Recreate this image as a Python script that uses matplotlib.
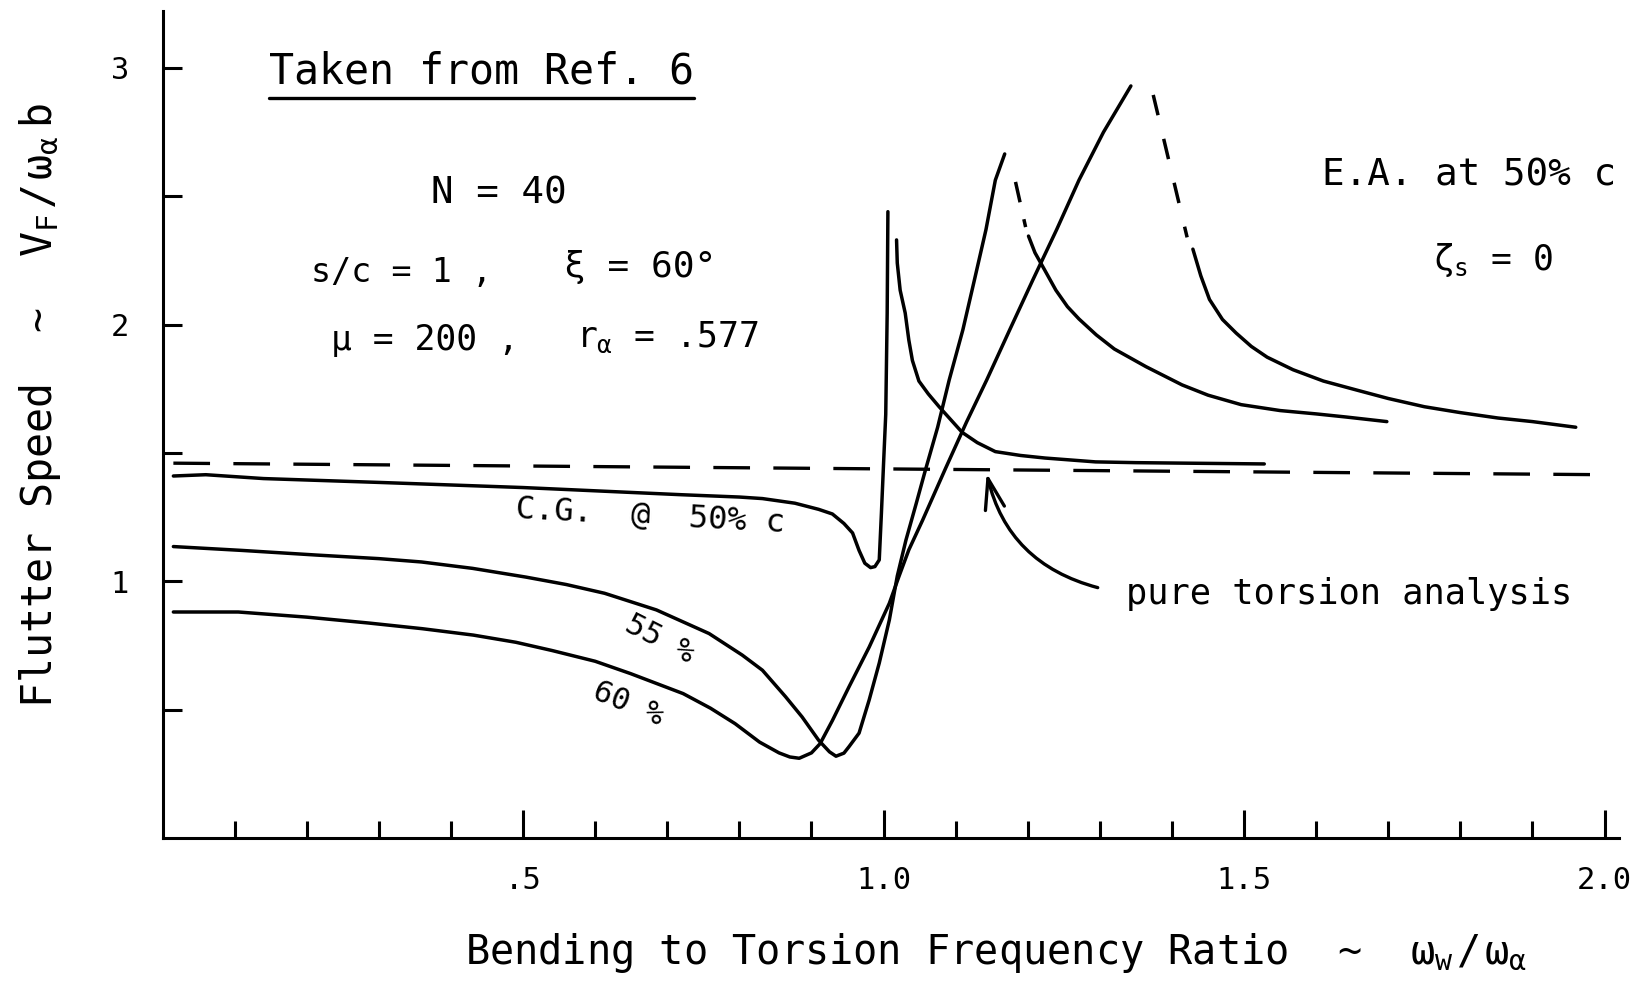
import matplotlib
matplotlib.use("Agg")
import matplotlib.pyplot as plt
from matplotlib.ticker import FixedLocator

# ---------------- data ----------------
torsion_x = [0.015, 2.0]
torsion_y = [1.46, 1.415]

cg50_lower_x = [0.015, 0.06, 0.14, 0.30, 0.50, 0.72, 0.80, 0.832, 0.877, 0.91, 0.929, 0.945, 0.957,
                0.966, 0.974, 0.982, 0.988, 0.994, 0.997, 1.000, 1.003, 1.005, 1.006]
cg50_lower_y = [1.41, 1.415, 1.40, 1.385, 1.365, 1.337, 1.328, 1.322, 1.304, 1.28, 1.262, 1.225, 1.188,
                1.12, 1.07, 1.053, 1.057, 1.083, 1.265, 1.46, 1.65, 2.045, 2.44]
cg50_upper_x = [1.018, 1.019, 1.023, 1.030, 1.035, 1.040, 1.049, 1.062, 1.077, 1.093, 1.109,
                1.13, 1.155, 1.19, 1.224, 1.294, 1.35, 1.42, 1.528]
cg50_upper_y = [2.33, 2.24, 2.134, 2.045, 1.94, 1.86, 1.78, 1.73, 1.68, 1.63, 1.58,
                1.54, 1.505, 1.49, 1.48, 1.465, 1.462, 1.46, 1.457]

cg55_lower_x = [0.015, 0.11, 0.213, 0.30, 0.359, 0.43, 0.504, 0.56, 0.613, 0.685, 0.758, 0.804,
                0.832, 0.864, 0.887, 0.91, 0.925, 0.934, 0.945, 0.952, 0.966, 0.98, 0.994, 1.008,
                1.019, 1.031, 1.045, 1.058, 1.075, 1.091, 1.11, 1.126, 1.142, 1.155, 1.168]
cg55_lower_y = [1.135, 1.12, 1.102, 1.088, 1.075, 1.05, 1.016, 0.987, 0.953, 0.888, 0.796, 0.712,
                0.653, 0.55, 0.471, 0.38, 0.335, 0.318, 0.33, 0.355, 0.408, 0.537, 0.681, 0.849,
                1.02, 1.16, 1.30, 1.433, 1.60, 1.784, 1.98, 2.174, 2.37, 2.563, 2.665]
cg55_dash_x = [1.183, 1.197]
cg55_dash_y = [2.556, 2.38]
cg55_upper_x = [1.201, 1.21, 1.222, 1.239, 1.255, 1.271, 1.295, 1.32, 1.364, 1.414, 1.45, 1.496,
                1.55, 1.60, 1.641, 1.698]
cg55_upper_y = [2.345, 2.28, 2.22, 2.134, 2.07, 2.022, 1.96, 1.905, 1.836, 1.765, 1.725, 1.688,
                1.665, 1.652, 1.64, 1.622]

cg60_lower_x = [0.015, 0.105, 0.2, 0.286, 0.36, 0.431, 0.49, 0.54, 0.60, 0.649, 0.722, 0.76,
                0.794, 0.828, 0.855, 0.87, 0.883, 0.90, 0.912, 0.929, 0.952, 0.98, 1.008, 1.021,
                1.035, 1.054, 1.086, 1.115, 1.143, 1.175, 1.207, 1.24, 1.271, 1.305, 1.343]
cg60_lower_y = [0.88, 0.88, 0.86, 0.837, 0.815, 0.79, 0.762, 0.73, 0.688, 0.64, 0.562, 0.505,
                0.445, 0.373, 0.331, 0.315, 0.31, 0.331, 0.367, 0.457, 0.588, 0.743, 0.914, 1.016,
                1.122, 1.237, 1.44, 1.62, 1.784, 1.98, 2.174, 2.37, 2.563, 2.75, 2.93]
cg60_dash_x = [1.374, 1.421]
cg60_dash_y = [2.895, 2.34]
cg60_upper_x = [1.429, 1.44, 1.452, 1.47, 1.489, 1.51, 1.532, 1.568, 1.61, 1.656, 1.70, 1.75,
                1.80, 1.852, 1.90, 1.96]
cg60_upper_y = [2.294, 2.19, 2.098, 2.02, 1.967, 1.915, 1.873, 1.824, 1.78, 1.745, 1.712, 1.68,
                1.657, 1.636, 1.622, 1.60]

x_major_ticks = [0.5, 1.0, 1.5, 2.0]
x_major_labels = [".5", "1.0", "1.5", "2.0"]
x_minor_ticks = [0.1, 0.2, 0.3, 0.4, 0.6, 0.7, 0.8, 0.9, 1.1, 1.2, 1.3, 1.4, 1.6, 1.7, 1.8, 1.9]
y_ticks = [0.5, 1.0, 1.5, 2.0, 2.5, 3.0]
y_labels = ["", "1", "", "2", "", "3"]

# ---------------- style ----------------
plt.rcParams['font.family'] = ['DejaVu Sans Mono', 'DejaVu Sans']
plt.rcParams['mathtext.fontset'] = 'custom'
plt.rcParams['mathtext.rm'] = 'DejaVu Sans Mono'
plt.rcParams['mathtext.it'] = 'DejaVu Sans Mono'
plt.rcParams['mathtext.bf'] = 'DejaVu Sans Mono:bold'
plt.rcParams['mathtext.sf'] = 'DejaVu Sans Mono'
plt.rcParams['mathtext.tt'] = 'DejaVu Sans Mono'
plt.rcParams['mathtext.cal'] = 'DejaVu Sans Mono'

fig = plt.figure(figsize=(16.42, 9.83), dpi=100)
ax = fig.add_axes([0.099, 0.1477, 0.887, 0.8416])
ax.set_xlim(0, 2.02)
ax.set_ylim(0, 3.224)

for s in ("top", "right"):
    ax.spines[s].set_visible(False)
for s in ("left", "bottom"):
    ax.spines[s].set_linewidth(2.2)

LW = 2.5
line_kw = dict(color="black", lw=LW, solid_capstyle="round", solid_joinstyle="round")

ax.plot(torsion_x, torsion_y, color="black", lw=2.4, linestyle=(0, (11, 7)))

ax.plot(cg50_lower_x, cg50_lower_y, **line_kw)
ax.plot(cg50_upper_x, cg50_upper_y, **line_kw)
ax.plot(cg55_lower_x, cg55_lower_y, **line_kw)
ax.plot(cg55_dash_x, cg55_dash_y, color="black", lw=LW, linestyle=(0, (6, 5)))
ax.plot(cg55_upper_x, cg55_upper_y, **line_kw)
ax.plot(cg60_lower_x, cg60_lower_y, **line_kw)
ax.plot(cg60_dash_x, cg60_dash_y, color="black", lw=LW, linestyle=(0, (6, 7)))
ax.plot(cg60_upper_x, cg60_upper_y, **line_kw)

# ticks
ax.set_xticks(x_major_ticks)
ax.set_xticklabels(x_major_labels)
ax.xaxis.set_minor_locator(FixedLocator(x_minor_ticks))
ax.set_yticks(y_ticks)
ax.set_yticklabels(y_labels)
ax.tick_params(axis="x", which="major", direction="in", length=20, width=2.2, pad=20, labelsize=22)
ax.tick_params(axis="x", which="minor", direction="in", length=12, width=2.2)
ax.tick_params(axis="y", which="major", direction="in", length=14, width=2.2, pad=24, labelsize=22)

# axis labels
ax.set_xlabel(r"Bending to Torsion Frequency Ratio  ~  $\omega_w\,/\,\omega_\alpha$",
              fontsize=29, va="center", ha="center")
ax.xaxis.set_label_coords(0.572, -0.139)
ax.set_ylabel(r"Flutter Speed  ~  $V_F\,/\,\omega_\alpha\ b$", fontsize=30,
              va="center", ha="center")
ax.yaxis.set_label_coords(-0.084, 0.522)

# annotations
title = ax.text(0.443, 2.988, "Taken from Ref. 6", fontsize=30, ha="center", va="center")
ax.text(0.466, 2.51, "N = 40", fontsize=27, ha="center", va="center")
ax.text(0.332, 2.204, "s/c = 1 ,", fontsize=24, ha="center", va="center")
ax.text(0.663, 2.224, "ξ = 60°", fontsize=26, ha="center", va="center")
ax.text(0.364, 1.939, "μ = 200 ,", fontsize=25, ha="center", va="center")
ax.text(0.70, 1.951, r"$r_\alpha$ = .577", fontsize=25, ha="center", va="center")
ax.text(1.812, 2.58, "E.A. at 50% c", fontsize=27, ha="center", va="center")
ax.text(1.845, 2.253, r"$\zeta_s$ = 0", fontsize=25, ha="center", va="center")
ax.text(0.676, 1.253, "C.G.  @  50% c", fontsize=23, ha="center", va="center", rotation=-3)
ax.text(0.689, 0.776, "55 %", fontsize=22, ha="center", va="center", rotation=-27)
ax.text(0.646, 0.522, "60 %", fontsize=22, ha="center", va="center", rotation=-22)
ax.text(1.336, 0.951, "pure torsion analysis", fontsize=25.5, ha="left", va="center")

ax.annotate("", xy=(1.143, 1.421), xytext=(1.297, 0.975),
            arrowprops=dict(arrowstyle="->,head_length=1.1,head_width=0.35",
                            connectionstyle="arc3,rad=-0.3", lw=2.4, color="black",
                            shrinkA=0, shrinkB=0, mutation_scale=20))

# underline of the title, computed from its rendered extent
fig.canvas.draw()
bb = title.get_window_extent()
inv = ax.transData.inverted()
(ux0, uy0), (ux1, _) = inv.transform([(bb.x0, bb.y0 - 6), (bb.x1, bb.y0 - 6)])
ax.plot([ux0, ux1], [uy0, uy0], color="black", lw=2.4, solid_capstyle="round")

fig.savefig("out.png", dpi=100)
